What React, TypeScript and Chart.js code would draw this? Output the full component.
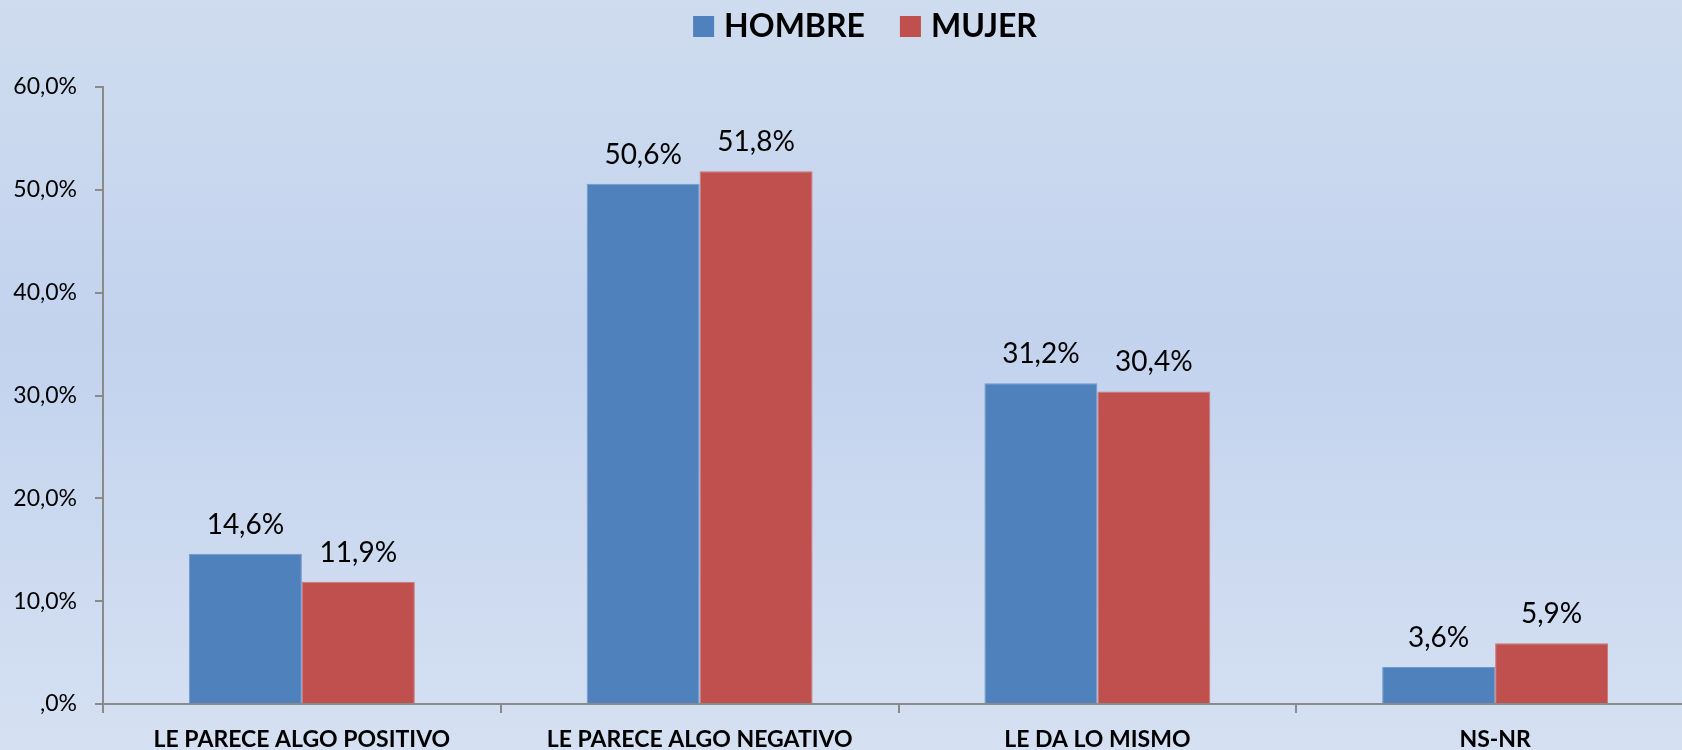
import React, { useEffect, useRef } from "react";
import { Chart, registerables } from "chart.js";

Chart.register(...registerables);

const categories = [
  "LE PARECE ALGO POSITIVO",
  "LE PARECE ALGO NEGATIVO",
  "LE DA LO MISMO",
  "NS-NR",
];
const seriesNames = ["HOMBRE", "MUJER"];
const hombre = [14.6, 50.6, 31.2, 3.6];
const mujer = [11.9, 51.8, 30.4, 5.9];
const seriesColors = ["#4f81bd", "#c0504d"];
const seriesBorders = ["#6f99cc", "#d07472"];
const yMin = 0;
const yMax = 60;
const yStep = 10;

const FONT = "Lato, 'Open Sans', sans-serif";

const fmt = (v: number) => {
  if (v === 0) return ",0%";
  return v.toFixed(1).replace(".", ",") + "%";
};

const bgPlugin = {
  id: "bgGradient",
  beforeDraw(chart: any) {
    const { ctx, width, height } = chart;
    const g = ctx.createLinearGradient(0, 0, 0, height);
    g.addColorStop(0, "#cfdcef");
    g.addColorStop(0.45, "#c3d3ee");
    g.addColorStop(1, "#d5e0f2");
    ctx.save();
    ctx.fillStyle = g;
    ctx.fillRect(0, 0, width, height);
    ctx.restore();
  },
};

const valueLabelPlugin = {
  id: "valueLabels",
  afterDatasetsDraw(chart: any) {
    const { ctx } = chart;
    ctx.save();
    ctx.font = `28px ${FONT}`;
    ctx.fillStyle = "#000";
    ctx.textAlign = "center";
    ctx.textBaseline = "alphabetic";
    chart.data.datasets.forEach((ds: any, i: number) => {
      const meta = chart.getDatasetMeta(i);
      meta.data.forEach((bar: any, j: number) => {
        ctx.fillText(fmt(ds.data[j]), bar.x, bar.y - 20);
      });
    });
    ctx.restore();
  },
};

const legendPlugin = {
  id: "customLegend",
  afterDraw(chart: any) {
    const { ctx } = chart;
    ctx.save();
    ctx.font = `bold 32px ${FONT}`;
    ctx.textBaseline = "alphabetic";
    const box = 21;
    const gapBoxText = 10;
    const gapItems = 35;
    const widths = seriesNames.map((n) => ctx.measureText(n).width);
    const total =
      widths.reduce((a, b) => a + b, 0) +
      seriesNames.length * (box + gapBoxText) +
      gapItems * (seriesNames.length - 1);
    let x = 865 - total / 2;
    seriesNames.forEach((n, i) => {
      ctx.fillStyle = seriesColors[i];
      ctx.fillRect(x, 16, box, box);
      x += box + gapBoxText;
      ctx.fillStyle = "#000";
      ctx.fillText(n, x, 37);
      x += widths[i] + gapItems;
    });
    ctx.restore();
  },
};

export default function App() {
  const ref = useRef<HTMLCanvasElement | null>(null);
  useEffect(() => {
    if (!ref.current) return;
    const chart = new Chart(ref.current, {
      type: "bar",
      data: {
        labels: categories,
        datasets: [
          {
            label: seriesNames[0],
            data: hombre,
            backgroundColor: seriesColors[0],
            borderColor: seriesBorders[0],
            borderWidth: 1,
            categoryPercentage: 0.568,
            barPercentage: 1,
          },
          {
            label: seriesNames[1],
            data: mujer,
            backgroundColor: seriesColors[1],
            borderColor: seriesBorders[1],
            borderWidth: 1,
            categoryPercentage: 0.568,
            barPercentage: 1,
          },
        ],
      },
      options: {
        responsive: false,
        animation: false,
        layout: { padding: { top: 87, left: 0, right: 0, bottom: 0 } },
        plugins: {
          legend: { display: false },
          tooltip: { enabled: false },
        },
        scales: {
          x: {
            offset: true,
            grid: {
              offset: true,
              drawOnChartArea: false,
              drawTicks: true,
              tickLength: 9,
              color: "#8a8a8a",
              lineWidth: 2,
            },
            border: { display: true, color: "#8a8a8a", width: 2 },
            ticks: {
              color: "#000",
              font: { family: FONT, size: 23, weight: "bold" },
              padding: 13,
              maxRotation: 0,
              autoSkip: false,
            },
            afterFit(scale: any) {
              scale.height = 46;
            },
          },
          y: {
            min: yMin,
            max: yMax,
            grid: {
              drawOnChartArea: false,
              drawTicks: true,
              tickLength: 8,
              color: "#8a8a8a",
              lineWidth: 2,
            },
            border: { display: true, color: "#8a8a8a", width: 2 },
            ticks: {
              stepSize: yStep,
              color: "#000",
              font: { family: FONT, size: 23 },
              padding: 18,
              callback: (v: any) => fmt(Number(v)),
            },
            afterFit(scale: any) {
              scale.width = 103;
            },
          },
        },
      } as any,
      plugins: [bgPlugin, valueLabelPlugin, legendPlugin],
    });
    return () => chart.destroy();
  }, []);
  return (
    <div
      style={{
        position: "fixed",
        left: 0,
        top: 0,
        width: 1682,
        height: 750,
        overflow: "hidden",
      }}
    >
      <canvas ref={ref} width={1694} height={750} style={{ display: "block" }} />
    </div>
  );
}
